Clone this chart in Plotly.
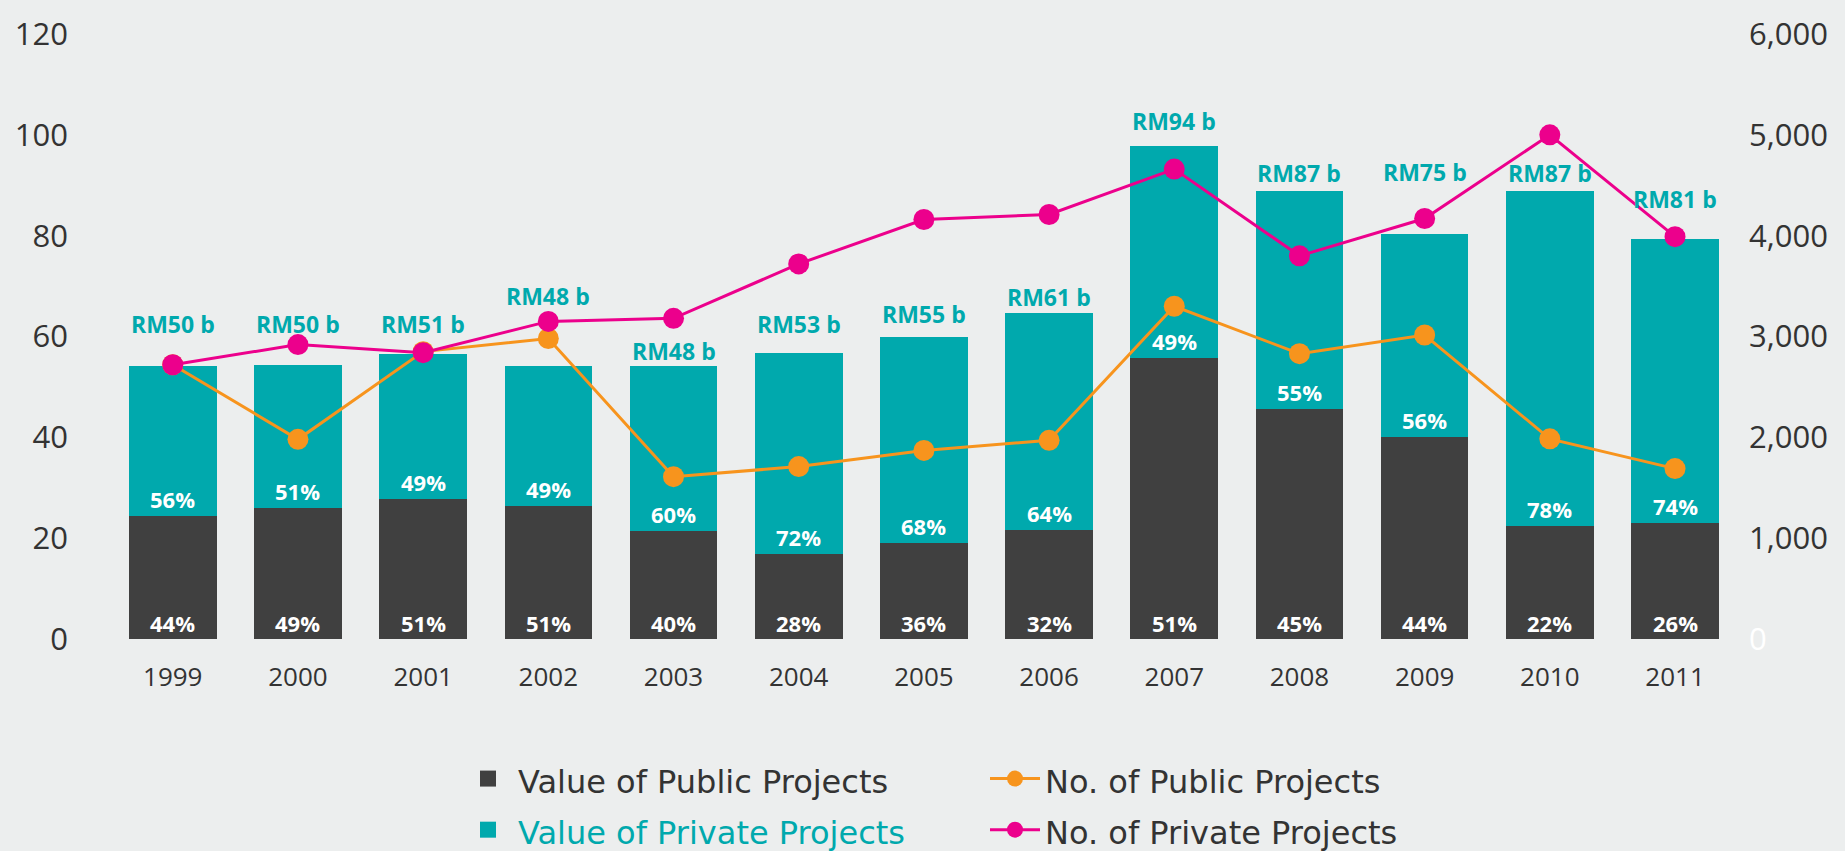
import plotly.graph_objects as go

# ---------------- data ----------------
years = [1999, 2000, 2001, 2002, 2003, 2004, 2005, 2006, 2007, 2008, 2009, 2010, 2011]
public_value = [24.3, 25.9, 27.8, 26.4, 21.5, 16.9, 19.0, 21.7, 55.7, 45.6, 40.1, 22.5, 23.0]
private_value = [29.9, 28.5, 28.8, 27.8, 32.7, 39.8, 41.0, 42.9, 42.1, 43.2, 40.3, 66.3, 56.3]
total_value = [54.2, 54.4, 56.6, 54.2, 54.2, 56.7, 60.0, 64.6, 97.8, 88.8, 80.4, 88.8, 79.3]
public_projects = [2720, 1980, 2850, 2980, 1610, 1710, 1870, 1970, 3300, 2830, 3015, 1985, 1690]
private_projects = [2720, 2920, 2840, 3150, 3180, 3720, 4160, 4210, 4660, 3800, 4170, 5000, 3990]

total_labels = ["RM50 b", "RM50 b", "RM51 b", "RM48 b", "RM48 b", "RM53 b", "RM55 b",
                "RM61 b", "RM94 b", "RM87 b", "RM75 b", "RM87 b", "RM81 b"]
public_share = ["44%", "49%", "51%", "51%", "40%", "28%", "36%", "32%", "51%", "45%", "44%", "22%", "26%"]
private_share = ["56%", "51%", "49%", "49%", "60%", "72%", "68%", "64%", "49%", "55%", "56%", "78%", "74%"]

left_ticks = [0, 20, 40, 60, 80, 100, 120]
right_ticks = [0, 1000, 2000, 3000, 4000, 5000, 6000]
grid_ticks = [20, 40, 60, 80, 100]

# ---------------- styles ----------------
DARK = "#404040"
TEAL = "#00a9ad"
ORANGE = "#f7941d"
PINK = "#ec008c"
TEXT = "#333333"
BG = "#eceeee"
FONT = "Open Sans, DejaVu Sans, sans-serif"
LEGEND_FONT = "DejaVu Sans, sans-serif"

# pixel shifts of the total labels above each bar (placement only)
total_label_shift = [42, 41, 30, 70, 15, 29, 23, 16, 25, 18, 62, 18, 40]


def legend_name(text, color=TEXT):
    return "<span style='font-size:32px;color:%s'>%s</span>" % (color, text)


fig = go.Figure()

fig.add_trace(go.Bar(
    x=years, y=public_value, name="Value of Public Projects",
    marker=dict(color=DARK, line=dict(width=0)), width=0.7, showlegend=False,
))
fig.add_trace(go.Bar(
    x=years, y=private_value, name="Value of Private Projects",
    marker=dict(color=TEAL, line=dict(width=0)), width=0.7, showlegend=False,
))
# legend entries for the bar series (no data drawn)
fig.add_trace(go.Scatter(
    x=[None], y=[None], mode="markers", name=legend_name("Value of Public Projects"),
    marker=dict(symbol="square", color=DARK, size=30), legendgroup="value",
))
fig.add_trace(go.Scatter(
    x=[None], y=[None], mode="markers", name=legend_name("Value of Private Projects", TEAL),
    marker=dict(symbol="square", color=TEAL, size=30), legendgroup="value",
))
fig.add_trace(go.Scatter(
    x=years, y=public_projects, name=legend_name("No. of Public Projects"), yaxis="y2",
    mode="lines+markers", line=dict(color=ORANGE, width=3),
    marker=dict(color=ORANGE, size=21), legendgroup="count",
))
fig.add_trace(go.Scatter(
    x=years, y=private_projects, name=legend_name("No. of Private Projects"), yaxis="y2",
    mode="lines+markers", line=dict(color=PINK, width=3),
    marker=dict(color=PINK, size=21), legendgroup="count",
))

annotations = []
for i, yr in enumerate(years):
    annotations.append(dict(
        x=yr, y=total_value[i], xref="x", yref="y", text=total_labels[i],
        showarrow=False, yanchor="middle", yshift=total_label_shift[i],
        font=dict(family=FONT, size=23, color=TEAL, weight="bold"),
    ))
    annotations.append(dict(
        x=yr, y=public_value[i], xref="x", yref="y", text=private_share[i],
        showarrow=False, yanchor="middle", yshift=17,
        font=dict(family=FONT, size=22, color="white", weight="bold"),
    ))
    annotations.append(dict(
        x=yr, y=0, xref="x", yref="y", text=public_share[i],
        showarrow=False, yanchor="middle", yshift=16,
        font=dict(family=FONT, size=22, color="white", weight="bold"),
    ))

right_text = ["<span style='color:white'>0</span>"] + ["{:,}".format(v) for v in right_ticks[1:]]

fig.update_layout(
    width=1845, height=851,
    margin=dict(l=83, r=99, t=30, b=212),
    paper_bgcolor=BG,
    plot_bgcolor="rgba(0,0,0,0)",
    barmode="stack",
    font=dict(family=FONT, color=TEXT),
    xaxis=dict(
        range=[years[0] - 0.717, years[-1] + 0.567],
        tickmode="array", tickvals=years, ticktext=[str(y) for y in years],
        showgrid=False, zeroline=False, showline=False,
        tickfont=dict(size=26, color=TEXT), ticklabelstandoff=20,
    ),
    yaxis=dict(
        range=[0, 120], tickmode="array", tickvals=left_ticks,
        showgrid=False, zeroline=False, showline=False,
        tickfont=dict(size=31, color=TEXT), ticklabelstandoff=14,
    ),
    yaxis2=dict(
        range=[0, 6000], overlaying="y", side="right",
        tickmode="array", tickvals=right_ticks, ticktext=right_text,
        showgrid=False, zeroline=False, showline=False,
        tickfont=dict(size=31, color=TEXT), ticklabelstandoff=2,
    ),
    yaxis3=dict(
        range=[0, 120], overlaying="y", tickmode="array", tickvals=grid_ticks,
        showticklabels=False, showgrid=True, gridcolor="#a4a7a7", griddash="dot",
        gridwidth=1.3, zeroline=False, showline=False,
    ),
    legend=dict(
        orientation="h", x=0.2255, xanchor="left", yref="container", y=0.121, yanchor="top",
        traceorder="grouped", itemwidth=50,
        entrywidthmode="pixels", entrywidth=462,
        font=dict(size=37, color=TEXT, family=LEGEND_FONT),
        bgcolor="rgba(0,0,0,0)",
    ),
    annotations=annotations,
    showlegend=True,
)

fig.write_html(
    "out.html",
    config={"displayModeBar": False},
    post_script="document.body.style.margin='0px';document.body.style.background='%s';" % BG,
)
